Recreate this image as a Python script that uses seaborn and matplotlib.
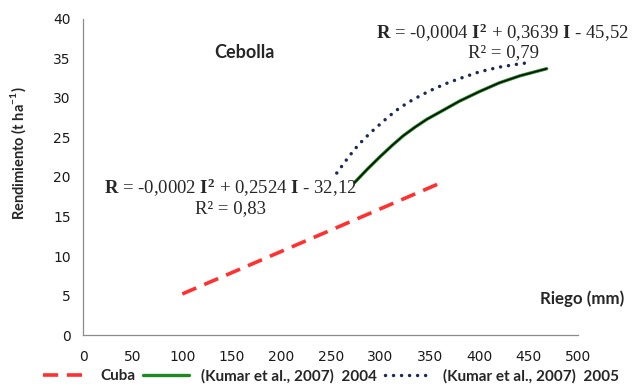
import matplotlib
matplotlib.use("Agg")
import matplotlib.pyplot as plt
import seaborn as sns
import pandas as pd

# Data
cuba_x = [100, 360]
cuba_y = [5.2, 19.2]

k2004_x = [274, 287, 300, 312, 323, 335, 347, 360, 380, 400, 420, 441, 468]
k2004_y = [19.3, 21.0, 22.6, 24.0, 25.2, 26.3, 27.3, 28.2, 29.6, 30.8, 31.9, 32.8, 33.7]

k2005_x = [256, 266, 274, 282, 290, 299, 308, 318, 329, 342, 355, 367, 380, 400, 420, 440, 452]
k2005_y = [20.5, 22.2, 23.5, 24.6, 25.6, 26.6, 27.6, 28.6, 29.5, 30.4, 31.2, 31.85, 32.45, 33.3, 33.9, 34.3, 34.5]

x_ticks = [0, 50, 100, 150, 200, 250, 300, 350, 400, 450, 500]
y_ticks = [0, 5, 10, 15, 20, 25, 30, 35, 40]

labels = ["Cuba", "(Kumar et al., 2007)  2004", "(Kumar et al., 2007)  2005"]

sns.set_theme(style="white")
plt.rcParams['font.family'] = ['DejaVu Sans']
plt.rcParams['mathtext.fontset'] = 'custom'
plt.rcParams['mathtext.rm'] = 'Liberation Serif'
plt.rcParams['mathtext.bf'] = 'Liberation Serif:bold'

fig = plt.figure(figsize=(6.34, 3.86), dpi=100)
ax = fig.add_axes([0.1314, 0.132, 0.7808, 0.819])

df_c = pd.DataFrame({"x": cuba_x, "y": cuba_y})
df_a = pd.DataFrame({"x": k2004_x, "y": k2004_y})
df_b = pd.DataFrame({"x": k2005_x, "y": k2005_y})

sns.lineplot(data=df_c, x="x", y="y", ax=ax, color="#FF3030", lw=2.6,
             label=labels[0])
sns.lineplot(data=df_a, x="x", y="y", ax=ax, color="#1E8A1E", lw=2.4,
             label=labels[1])
sns.lineplot(data=df_a, x="x", y="y", ax=ax, color="black", lw=1.0,
             legend=False)
sns.lineplot(data=df_b, x="x", y="y", ax=ax, color="#1B2A55", lw=2.5,
             label=labels[2])

lines = ax.get_lines()
lines[0].set_dashes((4.2, 2.4))
lines[3].set_dashes((0.01, 2.3))
lines[3].set_dash_capstyle("round")

ax.set_xlim(0, 500)
ax.set_ylim(0, 40)
ax.set_xticks(x_ticks)
ax.set_yticks(y_ticks)
ax.tick_params(axis="both", labelsize=10, length=5, width=0.8,
               color="#8C8C8C", direction="out", pad=4, labelcolor="#1A1A1A")
ax.tick_params(axis="x", pad=6)
ax.set_xlabel("")
ax.set_ylabel("")
for s in ["top", "right"]:
    ax.spines[s].set_visible(False)
for s in ["left", "bottom"]:
    ax.spines[s].set_color("#8C8C8C")
    ax.spines[s].set_linewidth(0.9)

fig.text(0.028, 1 - 153 / 386, "Rendimiento (t ha$^{\\mathregular{-1}}$)", rotation=90,
         ha="center", va="center", fontsize=10.5, fontweight="bold",
         family="Lato")

ax.text(163, 35.7, "Cebolla", ha="center", va="center", fontsize=13,
        fontweight="bold", family="Lato")
ax.text(504, 4.6, "Riego (mm)", ha="center", va="center", fontsize=12.2,
        fontweight="bold", family="Lato", clip_on=False)

eq_kw = dict(ha="center", va="center", fontsize=13.5, family="Liberation Serif")
ax.text(149, 18.6, r"$\mathbf{R}$ = -0,0002 $\mathbf{I^2}$ + 0,2524 $\mathbf{I}$ - 32,12", **eq_kw)
ax.text(149, 16.0, "R² = 0,83", **eq_kw)
ax.text(423, 38.2, r"$\mathbf{R}$ = -0,0004 $\mathbf{I^2}$ + 0,3639 $\mathbf{I}$ - 45,52", clip_on=False, **eq_kw)
ax.text(424, 35.8, "R² = 0,79", clip_on=False, **eq_kw)

leg = ax.legend(loc="center", bbox_to_anchor=(0.50, -0.13), ncol=3,
                frameon=False, handlelength=3.0, columnspacing=0.5,
                handletextpad=0.8, prop={"weight": "bold", "size": 11, "family": "Lato"})

fig.savefig("out.png", dpi=100)
